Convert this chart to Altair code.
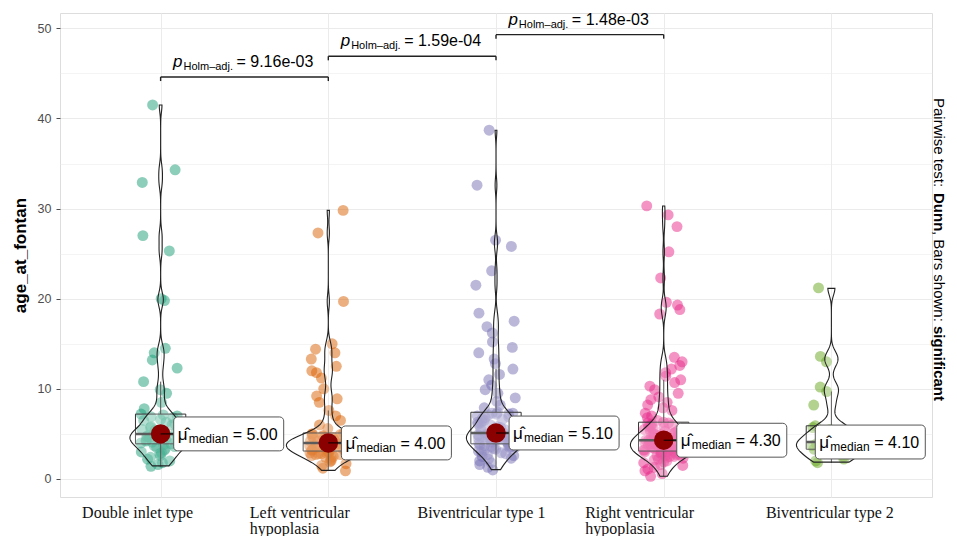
import json
import altair as alt
import pandas as pd

groups = ["Double inlet type", "Left ventricular hypoplasia", "Biventricular type 1",
          "Right ventricular hypoplasia", "Biventricular type 2"]
axis_lines = [["Double inlet type"], ["Left ventricular", "hypoplasia"], ["Biventricular type 1"],
              ["Right ventricular", "hypoplasia"], ["Biventricular type 2"]]
colors = ["#1B9E77", "#D95F02", "#7570B3", "#E7298A", "#66A61E"]

double_inlet = [1.4, 1.6, 1.8, 2.0, 2.2, 2.4, 2.6, 2.8, 2.9, 3.0, 3.2, 3.3, 3.5, 3.6, 3.7, 3.8,
                3.9,
                4.0, 4.1, 4.2, 4.3, 4.4, 4.4, 4.5, 4.6, 4.6, 4.7, 4.8, 4.8, 4.9, 4.9, 5.0,
                5.0,
                5.1, 5.2, 5.4, 5.5, 5.7, 5.8, 6.0, 6.1, 6.3, 6.5, 6.6, 6.8, 6.9, 7.0, 7.1,
                7.2,
                7.8, 8.5, 9.5, 9.9, 10.8, 12.3, 13.2, 14.0, 14.5, 19.8, 20.0, 25.3, 27.0, 32.9, 34.3, 41.5]
left_hypo = [0.9, 1.2, 1.5, 1.7, 1.9, 2.0, 2.1, 2.3, 2.4, 2.5, 2.6, 2.7, 2.7, 2.8, 2.8, 2.9, 2.9, 3.0, 3.0, 3.0,
             3.1,
             3.2, 3.2, 3.3, 3.3, 3.4, 3.4, 3.5, 3.5, 3.6, 3.6, 3.7, 3.7, 3.8, 3.8, 3.9, 3.9, 3.9, 4.0, 4.0,
             4.0,
             4.0, 4.1, 4.1, 4.2, 4.2, 4.3, 4.3, 4.4, 4.4, 4.5, 4.5, 4.6, 4.6, 4.7, 4.8, 4.8, 4.9, 5.0, 5.0,
             5.1,
             5.6, 6.0, 6.5, 7.0, 7.6, 8.5, 8.9, 9.2, 10.0, 11.2, 11.8, 12.0, 12.5, 13.3, 14.0, 14.4, 15.0,
             19.7, 27.3, 29.8]
biv_1 = [1.0, 1.3, 1.6, 1.8, 2.0, 2.2, 2.3, 2.5, 2.6, 2.7, 2.8, 2.9, 3.0, 3.1, 3.2, 3.3, 3.4, 3.5, 3.5, 3.6,
         3.6, 3.7, 3.7, 3.8, 3.8,
         3.9,
         4.0, 4.0, 4.1, 4.2, 4.2, 4.3, 4.4, 4.4, 4.5, 4.5, 4.6, 4.6, 4.7, 4.7, 4.8, 4.8, 4.9, 4.9, 5.0, 5.0,
         5.0, 5.1, 5.1, 5.1,
         5.1,
         5.2, 5.3, 5.4, 5.5, 5.6, 5.7, 5.8, 5.9, 6.0, 6.1, 6.2, 6.3, 6.4, 6.5, 6.6, 6.7, 6.8, 6.9, 7.0, 7.1,
         7.2, 7.2, 7.3, 7.3,
         7.4,
         7.9, 8.2, 8.6, 9.0, 9.5, 9.9, 10.4, 11.0, 11.6, 12.2, 12.8, 13.3, 14.0, 14.6, 15.2, 16.2, 16.9,
         17.5, 18.4, 21.5, 23.1, 25.8, 26.5, 32.6, 38.7]
right_hypo = [0.3, 0.6, 0.9, 1.1, 1.3, 1.5, 1.6, 1.8, 1.9, 2.0, 2.1, 2.2, 2.3, 2.4, 2.5, 2.5, 2.6, 2.6, 2.7,
              2.7, 2.8, 2.8, 2.9, 2.9, 2.9, 3.0, 3.0, 3.0, 3.1, 3.1,
              3.1,
              3.2, 3.2, 3.3, 3.3, 3.4, 3.4, 3.5, 3.5, 3.6, 3.6, 3.7, 3.7, 3.7, 3.8, 3.8, 3.9, 3.9, 3.9, 4.0,
              4.0, 4.0, 4.1, 4.1, 4.1, 4.2, 4.2, 4.2, 4.3, 4.3,
              4.3,
              4.4, 4.4, 4.5, 4.5, 4.6, 4.6, 4.7, 4.7, 4.8, 4.8, 4.9, 5.0, 5.0, 5.1, 5.1, 5.2, 5.3, 5.3, 5.4,
              5.5, 5.6, 5.7, 5.8, 5.8, 5.9, 6.0, 6.1, 6.2, 6.2,
              6.3,
              6.5, 6.8, 7.0, 7.3, 7.6, 7.9, 8.2, 8.5, 8.8, 9.1, 9.5, 9.9, 10.3, 10.7, 11.0, 11.4, 11.8, 12.2,
              12.6, 13.0, 13.5, 18.3, 18.8, 19.3, 19.6, 22.3, 25.2, 28.0, 29.3, 30.3]
biv_2 = [1.8, 2.0, 2.2, 2.5, 2.8, 3.1,
         3.3,
         3.5, 3.7, 3.9, 4.0, 4.1,
         4.1,
         4.4, 4.8, 5.2, 5.5, 5.7,
         5.9,
         8.2, 9.7, 10.2, 13.0, 13.6, 21.2]
series = [double_inlet, left_hypo, biv_1, right_hypo, biv_2]

pair_from = [1, 2, 3]
pair_to = [2, 3, 4]
pair_height = [44.6, 46.9, 49.3]
pair_p = ["9.16e-03", "1.59e-04", "1.48e-03"]

caption_parts = ["Pairwise test:", "Dunn", ", Bars shown:", "significant"]
caption_weights = ["normal", "bold", "normal", "bold"]

rows = []
for i, (g, vals) in enumerate(zip(groups, series), start=1):
    for v in vals:
        rows.append({"group": g, "idx": i, "value": v})
df = pd.DataFrame(rows)
ext_df = pd.DataFrame({"idx": list(range(1, len(series) + 1)),
                       "vmin": [min(s) for s in series], "vmax": [max(s) for s in series]})
sig = pd.DataFrame({"x1": pair_from, "x2": pair_to, "y": pair_height, "p": pair_p})

FONT = "Liberation Sans"
xscale = alt.Scale(domain=[0.4, 5.6], nice=False, zero=False)
yscale = alt.Scale(domain=[-2.0, 51.7], nice=False, zero=False)
xaxis = alt.Axis(values=[1, 2, 3, 4, 5], title=None,
                 labelExpr=f"{json.dumps(axis_lines)}[datum.value - 1]",
                 grid=True, gridColor="#EBEBEB", gridWidth=1, ticks=False, domain=False,
                 labelFont="Liberation Serif", labelFontSize=16, labelColor="#111111",
                 labelAlign="left", labelBaseline="top",
                 labelOffset={"condition": {"test": "datum.value == 5", "value": -66}, "value": -79},
                 labelPadding=7, labelLineHeight=16, labelFlush=False, labelOverlap=False)
yaxis = alt.Axis(values=list(range(0, 51, 5)),
                 labelExpr="datum.value % 10 == 0 ? datum.label : ''",
                 title="age_at_fontan", grid=True, gridColor="#EBEBEB",
                 gridWidth={"condition": {"test": "datum.value % 10 == 0", "value": 1.1}, "value": 0.55},
                 tickOpacity={"condition": {"test": "datum.value % 10 == 0", "value": 1}, "value": 0},
                 tickColor="#4D4D4D", tickSize=4, domain=False,
                 labelFont=FONT, labelFontSize=12.5, labelColor="#4D4D4D", labelPadding=5,
                 titleFont=FONT, titleFontSize=17, titleFontWeight="bold", titleColor="black",
                 titlePadding=8)


def X(f):
    return alt.X(f, type="quantitative", scale=xscale, axis=xaxis)


def Y(f):
    return alt.Y(f, type="quantitative", scale=yscale, axis=yaxis)


base = alt.Chart(df)
color = alt.Color("group:N", scale=alt.Scale(domain=groups, range=colors), legend=None)

points = base.transform_window(rn="row_number()", groupby=["idx"]).transform_calculate(
    jx="datum.idx + ((abs(sin(datum.rn * 12.9898 + datum.idx * 78.233)) * 43758.5453) % 1 - 0.5) * 0.24"
).mark_circle(size=120, opacity=0.5).encode(x=X("jx"), y=Y("value"), color=color)

stats = base.transform_joinaggregate(
    q1="q1(value)", q3="q3(value)", med="median(value)", groupby=["idx"]
).transform_calculate(
    lo="datum.q1 - 1.5 * (datum.q3 - datum.q1)", hi="datum.q3 + 1.5 * (datum.q3 - datum.q1)"
).transform_filter(
    "datum.value >= datum.lo && datum.value <= datum.hi"
).transform_aggregate(
    q1="min(q1)", q3="min(q3)", med="min(med)", wlo="min(value)", whi="max(value)", groupby=["idx"]
).transform_calculate(
    bl="datum.idx - 0.15", br="datum.idx + 0.15",
    lx="min(datum.idx + 0.078, 5.56 - 0.656)",
    lr="min(datum.idx + 0.078, 5.56 - 0.656) + 0.656",
    ly1="datum.med + 1.88", ly2="datum.med - 1.88",
    mtxt="'= ' + format(datum.med, '.2f')",
)

whisk_up = stats.mark_rule(color="#333333", strokeWidth=1).encode(x=X("idx"), y=Y("q3"), y2="whi")
whisk_lo = stats.mark_rule(color="#333333", strokeWidth=1).encode(x=X("idx"), y=Y("wlo"), y2="q1")
box = stats.mark_rect(fill="white", fillOpacity=0.2, stroke="#333333", strokeWidth=1).encode(
    x=X("bl"), x2="br", y=Y("q1"), y2="q3")
medline = stats.mark_rule(color="#333333", strokeWidth=2.5).encode(x=X("bl"), x2="br", y=Y("med"))

violin = base.transform_density(
    "value", as_=["value", "density"], groupby=["idx"], bandwidth=0.8, steps=500
).transform_joinaggregate(maxd="max(density)").transform_lookup(
    lookup="idx", from_=alt.LookupData(data=ext_df, key="idx", fields=["vmin", "vmax"])
).transform_filter(
    "datum.value >= datum.vmin - 0.001 && datum.value <= datum.vmax + 0.001"
).transform_calculate(
    vl="datum.idx - datum.density / datum.maxd * 0.25",
    vr="datum.idx + datum.density / datum.maxd * 0.25",
).mark_area(orient="horizontal", fill="white", fillOpacity=0.2, stroke="#222222", strokeWidth=1.1).encode(
    y=Y("value"), x=X("vl"), x2="vr", detail="idx:N")

dot = stats.mark_circle(color="#8B0000", size=380, opacity=1).encode(x=X("idx"), y=Y("med"))
leader = stats.mark_rule(color="black", strokeWidth=1).encode(x=X("idx"), x2="lx", y=Y("med"))
lbox = stats.mark_rect(fill="white", stroke="#555555", strokeWidth=1, cornerRadius=4).encode(
    x=X("lx"), x2="lr", y=Y("ly1"), y2="ly2")
mu = stats.mark_text(text="\u03bc\u0302", font=FONT, fontSize=17, align="left", baseline="alphabetic",
                     dx=4, dy=6, color="black").encode(x=X("lx"), y=Y("med"))
musub = stats.mark_text(text="median", font=FONT, fontSize=12, align="left", baseline="alphabetic",
                        dx=15, dy=9, color="black").encode(x=X("lx"), y=Y("med"))
muval = stats.mark_text(font=FONT, fontSize=16, align="left", baseline="alphabetic",
                        dx=59, dy=6, color="black").encode(x=X("lx"), y=Y("med"), text="mtxt:N")

sbase = alt.Chart(sig)
sig_h = sbase.mark_rule(color="#222222", strokeWidth=1.4).encode(x=X("x1"), x2="x2", y=Y("y"))
sig_t = sbase.transform_fold(["x1", "x2"], as_=["k", "xe"]).transform_calculate(
    yt="datum.y - 0.45").mark_rule(color="#222222", strokeWidth=1.4).encode(x=X("xe"), y=Y("y"), y2="yt")
smid = sbase.transform_calculate(xm="(datum.x1 + datum.x2) / 2", ptxt="'= ' + datum.p")
sig_p = smid.mark_text(text="p", font=FONT, fontStyle="italic", fontSize=17, align="right",
                       baseline="alphabetic", dx=-62, dy=-10, color="black").encode(x=X("xm"), y=Y("y"))
sig_sub = smid.mark_text(text="Holm\u2013adj.", font=FONT, fontSize=11, align="left",
                         baseline="alphabetic", dx=-61, dy=-7, color="black").encode(x=X("xm"), y=Y("y"))
sig_val = smid.mark_text(font=FONT, fontSize=16, align="left", baseline="alphabetic",
                         dx=-8, dy=-10, color="black").encode(x=X("xm"), y=Y("y"), text="ptxt:N")

cap_y = [85, 180, 218, 313]
caps = []
for part, w, yy in zip(caption_parts, caption_weights, cap_y):
    caps.append(alt.Chart(pd.DataFrame({"t": [part]})).mark_text(
        font=FONT, fontSize=15, fontWeight=w, angle=90, align="left", baseline="middle", color="black"
    ).encode(x=alt.value(879), y=alt.value(yy), text="t:N"))

chart = alt.layer(
    points, whisk_up, whisk_lo, box, medline, violin, dot, leader, lbox, mu, musub, muval,
    sig_h, sig_t, sig_p, sig_sub, sig_val, *caps
).properties(
    width=872, height=484,
    autosize=alt.AutoSizeParams(type="none"),
    padding={"left": 52, "top": 5, "right": 17, "bottom": 39},
).configure_view(strokeOpacity=0).configure(background="white")

chart.save("out.html", embed_options={"renderer": "svg", "actions": False})
